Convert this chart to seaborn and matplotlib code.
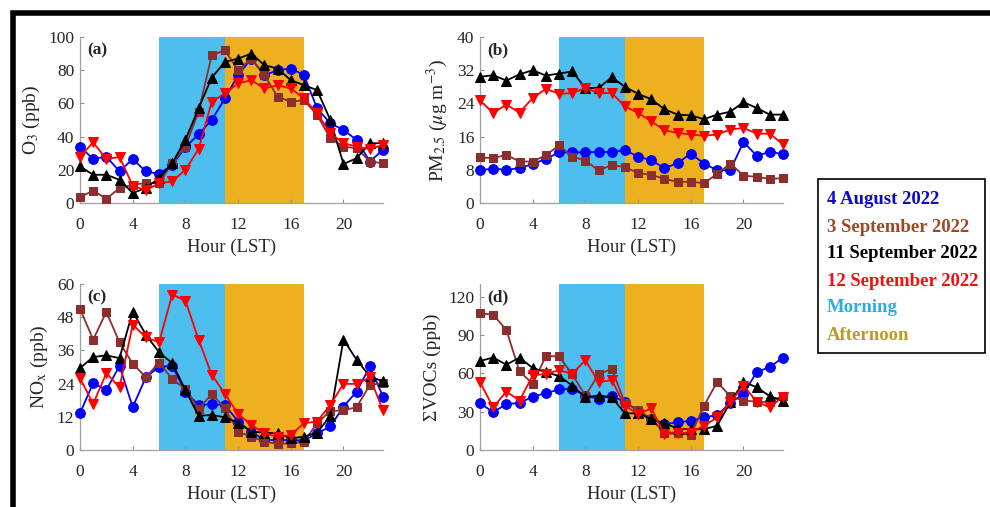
import numpy as np
import pandas as pd
import matplotlib
matplotlib.use("Agg")
import matplotlib.pyplot as plt
from matplotlib.patches import Rectangle
import seaborn as sns

hours = list(range(24))
series_names = ["4 August 2022", "3 September 2022", "11 September 2022", "12 September 2022"]

# (a) O3 (ppb)
o3_aug4 = [34, 26.5, 28, 19, 26.5, 19, 17.5, 23, 33.5, 41.5, 50, 63, 77, 87, 77, 80, 81, 77, 57, 48, 44, 38, 25, 32]
o3_sep3 = [3.5, 7.5, 2.5, 9, 11, 12, 12, 24, 34, 55, 89, 92, 80, 87, 77, 64, 61, 62, 53, 39, 34, 33, 25, 24]
o3_sep11 = [22, 17, 17, 14, 6, 9, 15, 24, 38, 57, 75.5, 85, 87, 90, 83, 81, 74, 71, 68, 50, 23.5, 27, 36, 36]
o3_sep12 = [28, 36.5, 26.5, 27.7, 10.5, 7.6, 12, 13, 20, 32.5, 61, 66, 72, 74, 69, 71, 69, 63, 54, 42, 36, 34, 32.5, 35]

# (b) PM2.5 (ug m-3)
pm_aug4 = [7.9, 8.3, 8, 8.4, 9.4, 10.6, 12.2, 12.2, 12.2, 12.3, 12.3, 12.7, 11.2, 10.3, 8.4, 9.6, 11.9, 9.5, 7.9, 7.9, 14.7, 11.4, 12.3, 11.8]
pm_sep3 = [11, 10.8, 11.6, 10, 10, 11.5, 13.9, 11.2, 10.2, 7.9, 9.1, 8.7, 7.2, 6.8, 5.8, 5.1, 5.1, 4.8, 7, 9.5, 6.6, 6.3, 5.8, 6]
pm_sep11 = [30.4, 30.8, 29.5, 31, 32, 30.7, 31.2, 31.7, 27.7, 27.7, 30.3, 28, 26.3, 25, 22.6, 21.3, 21.1, 20.2, 21.3, 22, 24.3, 22.9, 21.3, 21.3]
pm_sep12 = [24.7, 21.7, 23.7, 21.8, 25.3, 27.5, 26.3, 26.5, 27.7, 26.5, 26.5, 23.3, 21.7, 19.7, 17.5, 16.9, 16.5, 16.2, 16.5, 17.7, 18.1, 16.7, 16.7, 14.1]

# (c) NOx (ppb)
nox_aug4 = [13.3, 24.2, 21.7, 30.4, 15.5, 26.3, 30, 30.4, 21, 16.3, 16.5, 16.3, 10.3, 6.6, 3.6, 3.6, 3.6, 3.4, 6, 8.5, 15.7, 21.1, 30.2, 19.3]
nox_sep3 = [51.1, 39.9, 49.9, 38.9, 31.2, 26.3, 31.6, 25.7, 22, 14.9, 20.2, 15.1, 6.6, 4.8, 3, 2.2, 2.4, 3, 9.7, 14.1, 14.3, 15.5, 23.5, 24.2]
nox_sep11 = [29.6, 33.6, 34.2, 33.2, 50, 41.7, 35.3, 31.4, 21.7, 12.3, 12.7, 11.8, 9.9, 6.6, 6.3, 6, 4.2, 4.8, 6.3, 12.3, 39.9, 32.6, 26.6, 24.8]
nox_sep12 = [26, 16.7, 27.8, 22.6, 45.3, 40.7, 38.9, 56.2, 54, 39.9, 27.2, 20.3, 13, 9.1, 6, 4.8, 5.4, 9.7, 10.3, 16.3, 23.9, 23.9, 26.3, 14.3]

# (d) Sum VOCs (ppb)
voc_aug4 = [36.8, 29.5, 36, 36.8, 41.8, 44.5, 47.4, 47.9, 42.6, 40, 42.6, 37.4, 30.8, 24.2, 20.3, 21.6, 22.9, 25.5, 27.4, 36.8, 43.9, 61, 65, 72.4]
voc_sep3 = [107, 106, 94, 61.6, 51.8, 73.4, 73.4, 59.2, 42.6, 59.2, 63.7, 36.8, 31.6, 24.2, 13.7, 13.7, 11.6, 34.7, 53.2, 42.1, 38.7, 37.9, 37.4, 42.6]
voc_sep11 = [69.7, 72.4, 66.8, 72.4, 64.2, 61, 57.9, 50.5, 41.3, 42.6, 41.3, 28.7, 28.7, 24.2, 21, 16.8, 16.3, 16.3, 19, 37.4, 53.2, 49.2, 42.1, 38.7]
voc_sep12 = [53.2, 33.4, 45.8, 38.7, 58.4, 59.7, 62.4, 59.7, 70.3, 53.2, 54.7, 34.7, 28.2, 32.6, 12.4, 13.2, 13.7, 18.9, 25.5, 37.4, 50.5, 37.9, 33.4, 41.8]

panel_labels = ["(a)", "(b)", "(c)", "(d)"]
y_labels = [r"O$_3$ (ppb)", r"PM$_{2.5}$ ($\mu$g m$^{-3}$)", r"NO$_\mathrm{x}$ (ppb)", "ΣVOCs (ppb)"]
y_limits = [(0, 100), (0, 40), (0, 60), (0, 130)]
y_ticks = [[0, 20, 40, 60, 80, 100], [0, 8, 16, 24, 32, 40], [0, 12, 24, 36, 48, 60], [0, 30, 60, 90, 120]]
x_ticks = [0, 4, 8, 12, 16, 20]
morning = (6, 11)
afternoon = (11, 17)
legend_texts = ["4 August 2022", "3 September 2022", "11 September 2022", "12 September 2022", "Morning", "Afternoon"]

sns.set_style("ticks")
plt.rcParams["font.family"] = ["Liberation Serif", "DejaVu Serif"]
plt.rcParams["mathtext.fontset"] = "stix"

line_colors = ["#0000FF", "#8B2E2E", "#000000", "#FF0000"]
markers = ["o", "s", "^", "v"]
msizes = [7, 6, 7.5, 7.5]
morning_color = "#4DBEEE"
afternoon_color = "#EDB120"
legend_colors = ["#0A0ACF", "#9C4A24", "#000000", "#F01010", "#2AAEE0", "#C09A1E"]

panels = [
    [o3_aug4, o3_sep3, o3_sep11, o3_sep12],
    [pm_aug4, pm_sep3, pm_sep11, pm_sep12],
    [nox_aug4, nox_sep3, nox_sep11, nox_sep12],
    [voc_aug4, voc_sep3, voc_sep11, voc_sep12],
]

fig = plt.figure(figsize=(9.9, 5.07), dpi=100)
W, H = 990, 507
positions = [(80, 37, 383, 203), (480, 37, 783, 203), (80, 284, 383, 450), (480, 284, 783, 450)]

for i, (l, t, r, b) in enumerate(positions):
    ax = fig.add_axes([l / W, 1 - b / H, (r - l) / W, (b - t) / H])
    ax.axvspan(*morning, color=morning_color, lw=0, zorder=0)
    ax.axvspan(*afternoon, color=afternoon_color, lw=0, zorder=0)
    for j, vals in enumerate(panels[i]):
        df = pd.DataFrame({"hour": hours, "val": vals})
        sns.lineplot(data=df, x="hour", y="val", ax=ax, color=line_colors[j], marker=markers[j],
                     markersize=msizes[j], markeredgecolor=line_colors[j], linewidth=1.3,
                     clip_on=False, zorder=3 + j)
    ax.set_xlim(0, 23)
    ax.set_ylim(*y_limits[i])
    ax.set_xticks(x_ticks)
    ax.set_yticks(y_ticks[i])
    ax.set_xlabel("Hour (LST)", fontsize=13.5, labelpad=4)
    ax.set_ylabel(y_labels[i], fontsize=14, labelpad=5)
    ax.tick_params(direction="in", length=3, width=0.8, color="#909090", labelsize=12.5)
    ax.tick_params(axis="x", pad=10)
    ax.tick_params(axis="y", pad=4)
    sns.despine(ax=ax)
    for s in ["left", "bottom"]:
        ax.spines[s].set_color("#a0a0a0")
        ax.spines[s].set_linewidth(0.9)
    ax.text(0.025, 0.97, panel_labels[i], transform=ax.transAxes, fontsize=12.5,
            fontweight="bold", va="top", ha="left", zorder=10)

# legend box
fig.patches.append(Rectangle((818 / W, 1 - 353 / H), (985 - 818) / W, (353 - 179) / H,
                             transform=fig.transFigure, fill=False, edgecolor="black", lw=1.2))
ys = [199, 227, 254, 281, 308, 335]
for txt, c, y in zip(legend_texts, legend_colors, ys):
    fig.text(827 / W, 1 - y / H, txt, color=c, fontsize=13.5, fontweight="bold", va="center", ha="left")

# outer frame
fig.patches.append(Rectangle((12.5 / W, -0.2), 1.2, 1.2 - 12.5 / H, transform=fig.transFigure,
                             fill=False, edgecolor="black", lw=4))

fig.savefig("out.png", dpi=100)
